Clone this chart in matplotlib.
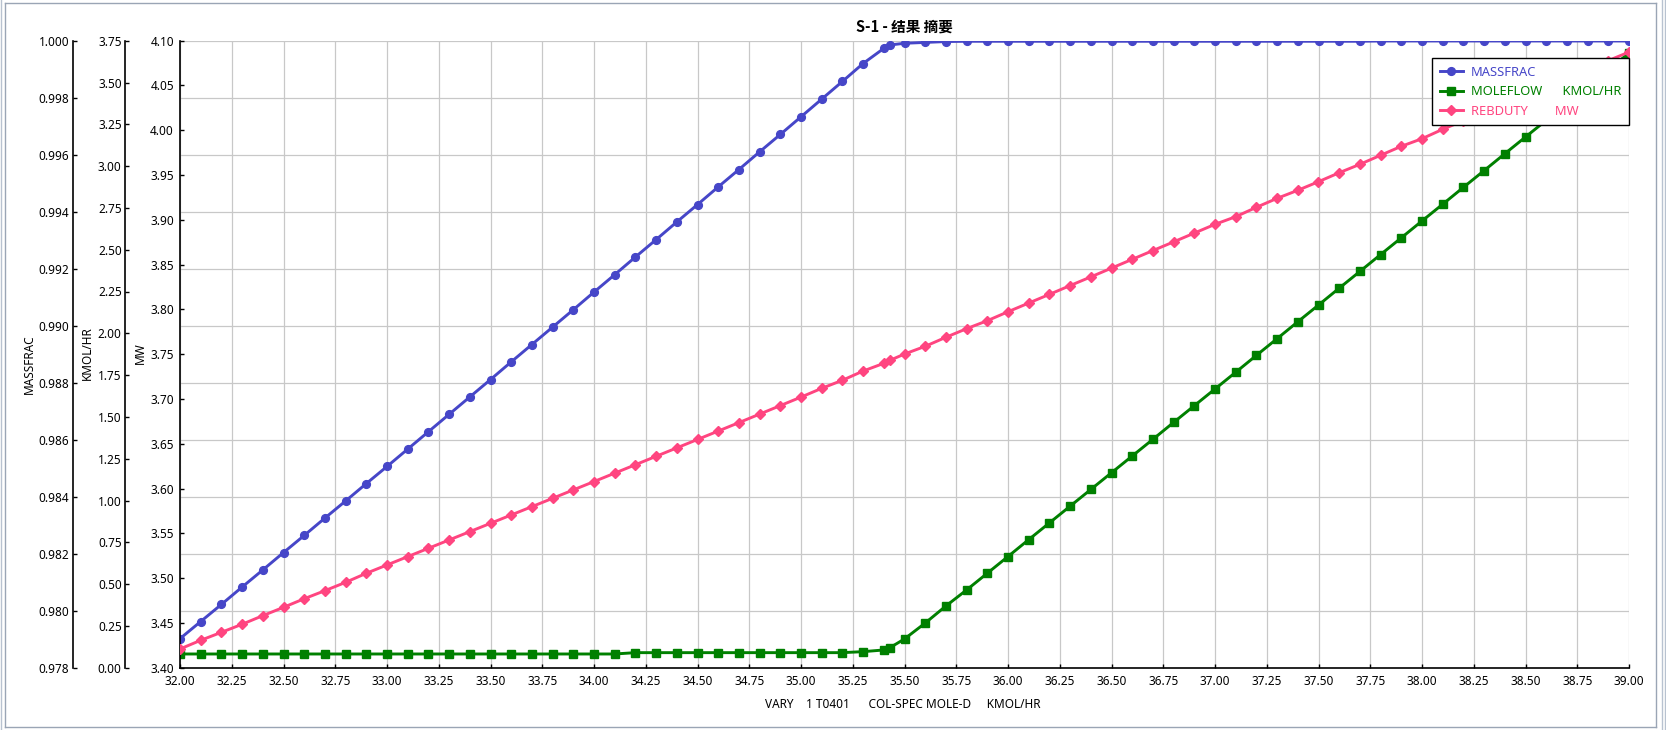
import matplotlib
matplotlib.use("Agg")
import matplotlib.pyplot as plt
from matplotlib.ticker import FixedLocator, FormatStrFormatter
from matplotlib.lines import Line2D

plt.rcParams['font.family'] = ['Noto Sans', 'Noto Sans CJK SC', 'DejaVu Sans']

# ---------------- data ----------------
x_vals = [32.0, 32.1, 32.2, 32.3, 32.4, 32.5, 32.6, 32.7, 32.8, 32.9,
          33.0, 33.1, 33.2, 33.3, 33.4, 33.5, 33.6, 33.7, 33.8, 33.9,
          34.0, 34.1, 34.2, 34.3, 34.4, 34.5, 34.6, 34.7, 34.8, 34.9,
          35.0, 35.1, 35.2, 35.3, 35.4, 35.43, 35.5, 35.6, 35.7, 35.8, 35.9,
          36.0, 36.1, 36.2, 36.3, 36.4, 36.5, 36.6, 36.7, 36.8, 36.9,
          37.0, 37.1, 37.2, 37.3, 37.4, 37.5, 37.6, 37.7, 37.8, 37.9,
          38.0, 38.1, 38.2, 38.3, 38.4, 38.5, 38.6, 38.7, 38.8, 38.9, 39.0]

massfrac = [0.97902, 0.97962, 0.98022, 0.98083, 0.98143, 0.98204, 0.98264, 0.98325, 0.98385, 0.98446,
            0.98506, 0.98567, 0.98628, 0.98689, 0.98750, 0.98811, 0.98873, 0.98934, 0.98995, 0.99056,
            0.99118, 0.99179, 0.99241, 0.99302, 0.99364, 0.99425, 0.99487, 0.99548, 0.99610, 0.99671,
            0.99733, 0.99795, 0.99857, 0.99920, 0.99973, 0.99985, 0.99991, 0.99994, 0.99997, 0.99998, 0.99998,
            0.99998, 0.99998, 0.99998, 0.99998, 0.99998, 0.99998, 0.99998, 0.99998, 0.99998, 0.99998,
            0.99998, 0.99998, 0.99998, 0.99998, 0.99998, 0.99998, 0.99998, 0.99998, 0.99999, 0.99999,
            0.99999, 0.99999, 0.99999, 0.99999, 0.99999, 0.99999, 0.99999, 0.99999, 0.99999, 0.99999, 0.99999]

moleflow = [0.082, 0.082, 0.082, 0.082, 0.082, 0.082, 0.082, 0.082, 0.082, 0.082,
            0.082, 0.082, 0.082, 0.082, 0.082, 0.082, 0.082, 0.082, 0.082, 0.082,
            0.082, 0.082, 0.090, 0.090, 0.090, 0.090, 0.090, 0.090, 0.090, 0.090,
            0.090, 0.090, 0.090, 0.096, 0.106, 0.120, 0.172, 0.267, 0.369, 0.465, 0.565,
            0.665, 0.766, 0.866, 0.966, 1.066, 1.166, 1.266, 1.366, 1.467, 1.567,
            1.667, 1.767, 1.868, 1.968, 2.069, 2.169, 2.270, 2.370, 2.471, 2.571,
            2.672, 2.772, 2.873, 2.973, 3.074, 3.174, 3.274, 3.375, 3.475, 3.576, 3.676]

rebduty = [3.4209, 3.4306, 3.4395, 3.4485, 3.4581, 3.4674, 3.4770, 3.4860, 3.4953, 3.5054,
           3.5147, 3.5240, 3.5333, 3.5426, 3.5519, 3.5612, 3.5705, 3.5798, 3.5891, 3.5985,
           3.6078, 3.6172, 3.6266, 3.6360, 3.6454, 3.6548, 3.6642, 3.6736, 3.6831, 3.6926,
           3.7021, 3.7119, 3.7209, 3.7312, 3.7398, 3.7432, 3.7502, 3.7588, 3.7689, 3.7785, 3.7874,
           3.7974, 3.8071, 3.8168, 3.8266, 3.8363, 3.8461, 3.8559, 3.8657, 3.8754, 3.8852,
           3.8950, 3.9035, 3.9140, 3.9240, 3.9330, 3.9426, 3.9526, 3.9620, 3.9721, 3.9821,
           3.9906, 4.0011, 4.0107, 4.0203, 4.0299, 4.0395, 4.0491, 4.0587, 4.0683, 4.0778, 4.0873]

x_ticks = [32.00, 32.25, 32.50, 32.75, 33.00, 33.25, 33.50, 33.75, 34.00, 34.25, 34.50, 34.75,
           35.00, 35.25, 35.50, 35.75, 36.00, 36.25, 36.50, 36.75, 37.00, 37.25, 37.50, 37.75,
           38.00, 38.25, 38.50, 38.75, 39.00]
massfrac_ticks = [0.978, 0.980, 0.982, 0.984, 0.986, 0.988, 0.990, 0.992, 0.994, 0.996, 0.998, 1.000]
kmol_ticks = [0.00, 0.25, 0.50, 0.75, 1.00, 1.25, 1.50, 1.75, 2.00, 2.25, 2.50, 2.75, 3.00, 3.25, 3.50, 3.75]
mw_ticks = [3.40, 3.45, 3.50, 3.55, 3.60, 3.65, 3.70, 3.75, 3.80, 3.85, 3.90, 3.95, 4.00, 4.05, 4.10]

series_labels = ["MASSFRAC", "MOLEFLOW      KMOL/HR", "REBDUTY        MW"]
title_text = "S-1 - 结果 摘要"
xlabel_text = "VARY    1 T0401      COL-SPEC MOLE-D     KMOL/HR"
ylabels = ["MASSFRAC", "KMOL/HR", "MW"]

# ---------------- styling ----------------
W, H = 1666, 730
DPI = 100
C_BLUE = '#4646C8'
C_GREEN = '#008000'
C_PINK = '#FF4580'
FS = 8.5
GRID = '#c8c8c8'

fig = plt.figure(figsize=(W / DPI, H / DPI), dpi=DPI)
fig.patch.set_facecolor('white')

L, R, T, B = 180, 1629, 40.7, 667.7
ax_mf = fig.add_axes([L / W, 1 - B / H, (R - L) / W, (B - T) / H])
ax_km = ax_mf.twinx()
ax_mw = ax_mf.twinx()

px2pt = 72.0 / DPI

for a in (ax_mf, ax_km, ax_mw):
    a.spines['top'].set_visible(False)
    a.spines['right'].set_visible(False)
    a.spines['left'].set_visible(True)
    a.spines['left'].set_linewidth(1.2)
    a.spines['left'].set_color('black')
    a.yaxis.set_ticks_position('left')
    a.yaxis.set_label_position('left')
    a.patch.set_visible(False)

ax_mf.patch.set_visible(True)
ax_mf.spines['bottom'].set_linewidth(1.2)
ax_km.spines['bottom'].set_visible(False)
ax_mw.spines['bottom'].set_visible(False)

ax_mf.spines['left'].set_position(('outward', 107.3 * px2pt))
ax_km.spines['left'].set_position(('outward', 55.3 * px2pt))

# lines
l1, = ax_mf.plot(x_vals, massfrac, color=C_BLUE, lw=2.1, marker='o', ms=5.6, zorder=3)
l2, = ax_km.plot(x_vals, moleflow, color=C_GREEN, lw=2.1, marker='s', ms=5.3, zorder=3)
l3, = ax_mw.plot(x_vals, rebduty, color=C_PINK, lw=2.1, marker='D', ms=4.7, zorder=3)

ax_mf.set_xlim(32.0, 39.0)
ax_mf.set_ylim(0.978, 1.000)
ax_km.set_ylim(0.0, 3.75)
ax_mw.set_ylim(3.40, 4.10)

ax_mf.xaxis.set_major_locator(FixedLocator(x_ticks))
ax_mf.xaxis.set_major_formatter(FormatStrFormatter('%.2f'))
ax_mf.yaxis.set_major_locator(FixedLocator(massfrac_ticks))
ax_mf.yaxis.set_major_formatter(FormatStrFormatter('%.3f'))
ax_km.yaxis.set_major_locator(FixedLocator(kmol_ticks))
ax_km.yaxis.set_major_formatter(FormatStrFormatter('%.2f'))
ax_mw.yaxis.set_major_locator(FixedLocator(mw_ticks))
ax_mw.yaxis.set_major_formatter(FormatStrFormatter('%.2f'))

ax_mf.tick_params(axis='x', direction='in', length=4 * px2pt, width=1.0, pad=7 * px2pt,
                  labelsize=FS, colors='black')
ax_mf.tick_params(axis='y', direction='in', length=4 * px2pt, width=1.0, pad=3.5 * px2pt,
                  labelsize=FS)
ax_km.tick_params(axis='y', direction='in', length=4 * px2pt, width=1.0, pad=3.0 * px2pt,
                  labelsize=FS)
ax_mw.tick_params(axis='y', direction='in', length=4 * px2pt, width=1.0, pad=6.0 * px2pt,
                  labelsize=FS)

ax_mf.grid(True, color=GRID, lw=0.9)
ax_mf.set_axisbelow(True)

# axis labels
fig.text(29 / W, 1 - 364 / H, ylabels[0], rotation=90, ha='center', va='center', fontsize=FS)
fig.text(87 / W, 1 - 353 / H, ylabels[1], rotation=90, ha='center', va='center', fontsize=FS)
fig.text(140 / W, 1 - 353 / H, ylabels[2], rotation=90, ha='center', va='center', fontsize=FS)
fig.text(903 / W, 1 - 705 / H, xlabel_text, ha='center', va='center', fontsize=FS)
fig.text(904.5 / W, 1 - 27 / H, title_text, ha='center', va='center', fontsize=10.5,
         fontweight='bold', family=['Noto Sans CJK SC', 'DejaVu Sans'])

# legend
leg = ax_mw.legend([l1, l2, l3], series_labels, loc='upper right',
                   bbox_to_anchor=(1.0, 1 - 17.3 / (B - T)), borderaxespad=0,
                   fontsize=9.3, frameon=True, fancybox=False, framealpha=1,
                   edgecolor='black', handlelength=1.8, handletextpad=0.6,
                   borderpad=0.6, labelspacing=0.5)
leg.get_frame().set_linewidth(1.0)
for txt, c in zip(leg.get_texts(), [C_BLUE, C_GREEN, C_PINK]):
    txt.set_color(c)
leg.set_zorder(10)

# window frame
FRAME = '#9aa5b5'
def fline(x0, y0, x1, y1, c=FRAME, lw=1.0):
    fig.add_artist(Line2D([x0 / W, x1 / W], [1 - y0 / H, 1 - y1 / H],
                          transform=fig.transFigure, color=c, lw=lw))

fline(5, 3, 1656, 3)
fline(5, 3, 5, 727)
fline(5, 727, 1656, 727)
fline(1656, 3, 1656, 727)
fline(1, 0, 1, 730, c='#b8c2d0')
fline(1661.5, 0, 1661.5, 730, c='#b8c2d0')
fline(1665, 0, 1665, 730, c='#b8c2d0')

fig.savefig('out.png', dpi=DPI, facecolor='white')
